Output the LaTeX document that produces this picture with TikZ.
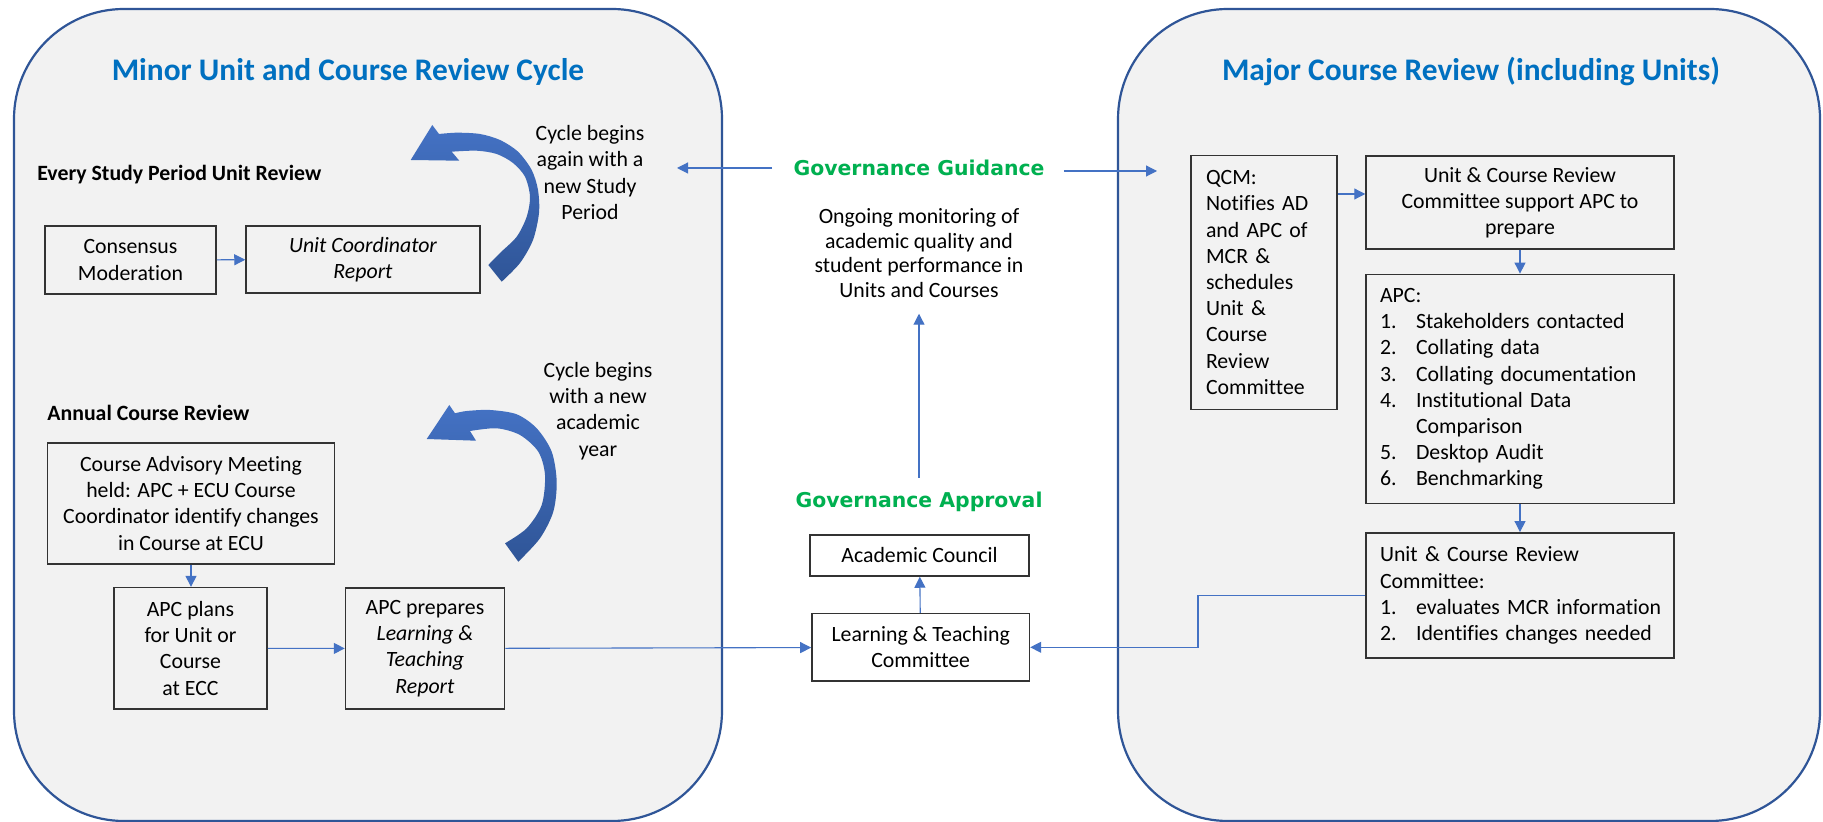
\documentclass[tikz,border=0pt]{standalone}
\usepackage{fontspec}
\setmainfont{Carlito}[Ligatures=NoCommon]
\newfontfamily\govfont{DejaVu Sans}
\usetikzlibrary{arrows.meta}
\definecolor{panelblue}{HTML}{2F5597}
\definecolor{flowblue}{HTML}{4472C4}
\definecolor{titleblue}{HTML}{0070C0}
\definecolor{govgreen}{HTML}{00B050}
\definecolor{panelgray}{HTML}{F2F2F2}
\newcommand\bodyfont{\fontsize{10.9}{13.1}\selectfont}
\newcommand\listno[1]{\makebox[18pt][l]{#1}}

\begin{document}
\begin{tikzpicture}[x=0.5pt,y=-0.5pt,
  every node/.style={font=\bodyfont, inner sep=0pt},
  box/.style={draw=black!80, line width=0.75pt, align=center},
  flow/.style={draw=flowblue, line width=0.55pt, -{Triangle[length=5.5pt,width=5.5pt]}},
  panel/.style={draw=panelblue, line width=1.1pt, fill=panelgray, rounded corners=55pt},
  title/.style={text=titleblue, font=\fontsize{15.7}{18}\selectfont\bfseries},
  gov/.style={text=govgreen, font=\govfont\fontsize{10.2}{12}\selectfont\bfseries},
  cyclearrow/.style={top color=flowblue, bottom color=panelblue, draw=none}]

\useasboundingbox (0,0) rectangle (1823,822);
\fill[white] (0,0) rectangle (1823,822);

% the two review panels
\path[panel] (14,9) rectangle (722,821);
\path[panel] (1118,9) rectangle (1820,821);

\node[title] (minortitle) at (348,72) {Minor Unit and Course Review Cycle};
\node[title] (majortitle) at (1471,72) {Major Course Review (including Units)};

% minor review cycle
\node[font=\bodyfont\bfseries, anchor=west] (unitreview) at (37,175) {Every Study Period Unit Review};
\node[box, minimum width=85.5pt, minimum height=34pt] (consensus) at (130.5,260) {Consensus\\Moderation};
\node[box, minimum width=117pt, minimum height=33.5pt, font=\bodyfont\itshape] (ucreport) at (363,259.5) {Unit Coordinator\\Report};
\node[align=center] (cycleunit) at (590,172.5) {Cycle begins\\again with a\\new Study\\Period};

\node[font=\bodyfont\bfseries, anchor=west] (coursereview) at (47,413) {Annual Course Review};
\node[box, minimum width=143.5pt, minimum height=60.5pt] (advisory) at (191,503.3) {Course Advisory Meeting\\held: APC + ECU Course\\Coordinator identify changes\\in Course at ECU};
\node[box, minimum width=76.5pt, minimum height=60.7pt] (plans) at (190.5,648.3) {APC plans\\for Unit or\\Course\\at ECC};
\node[box, minimum width=79.5pt, minimum height=60.5pt] (prepares) at (425,648.5) {APC prepares\\\textit{Learning \&}\\\textit{Teaching}\\\textit{Report}};
\node[align=center] (cyclecourse) at (598,411) {Cycle begins\\with a new\\academic\\year};

\shade[cyclearrow] (432.3,125) -- plot[smooth] coordinates {(439,134) (457,132.7) (480,134) (500,140) (518,151.7) (531.7,170) (538,190) (539,213) (533,240) (520,263) (501.7,281.7)}
  -- plot[smooth] coordinates {(488.3,265) (500,253) (516.7,236.7) (526.7,216.7) (530,196.7) (525,176.7) (513,163) (496.7,154) (476.7,150.7) (451.7,151.7)}
  -- (459.3,160.7) -- (410.7,160) -- cycle;
\shade[cyclearrow] (449.3,405) -- plot[smooth] coordinates {(455,413.3) (466.7,411) (490,410) (516.7,414.3) (536.7,428.3) (551.7,451.7) (556.7,481.7) (553.3,511.7) (540,538.3) (518.3,561.7)}
  -- plot[smooth] coordinates {(505,543.3) (526.7,528.3) (541.7,505) (545,475) (538.3,451.7) (520,435) (496.7,428.3) (470,431)}
  -- (476,440.7) -- (426.7,439) -- cycle;

% governance
\node[gov] (guidance) at (919,168) {Governance Guidance};
\node[align=center, font=\fontsize{10.9}{12.25}\selectfont] (ongoing) at (919,253) {Ongoing monitoring of\\academic quality and\\student performance in\\Units and Courses};
\node[gov] (approval) at (919,502) {Governance Approval};
\node[box, fill=white, minimum width=109.5pt, minimum height=20.5pt] (council) at (919.5,555.5) {Academic Council};
\node[box, fill=white, minimum width=108.75pt, minimum height=33.75pt] (ltc) at (920.7,647.3) {Learning \& Teaching\\Committee};
\coordinate (guideleft) at (677,168);
\coordinate (guideright) at (1157,171);

% major course review
\node[box, text width=58pt, inner sep=7.5pt, minimum height=126.5pt, align=left] (qcm) at (1264,282.5) {QCM:\\Notifies AD\\and APC of\\MCR \&\\schedules\\Unit \&\\Course\\Review\\Committee};
\node[box, minimum width=154pt, minimum height=46.5pt] (ucrsupport) at (1520,202.5) {Unit \& Course Review\\Committee support APC to\\prepare};
\node[box, text width=140pt, inner sep=7pt, minimum height=113pt, align=left] (apc) at (1520,389) {APC:\\\listno{1.}Stakeholders contacted\\\listno{2.}Collating data\\\listno{3.}Collating documentation\\\listno{4.}Institutional Data\\\listno{}Comparison\\\listno{5.}Desktop Audit\\\listno{6.}Benchmarking};
\node[box, text width=140pt, inner sep=7pt, minimum height=60.5pt, align=left] (ucrcommittee) at (1520,595.5) {Unit \& Course Review\\Committee:\\\listno{1.}\mbox{evaluates MCR information}\\\listno{2.}\mbox{Identifies changes needed}};
\coordinate (qcmlink) at (1350,194);
\coordinate (committeebend) at (1198,620);

\draw[flow] (consensus) -- (ucreport);
\draw[flow] (advisory.south) -- (advisory.south |- plans.north);
\draw[flow] (plans) -- (prepares);
\draw[flow] (prepares) -- (ltc);
\draw[flow] (ltc) -- (council);
\draw[flow, shorten <=7pt, shorten >=8pt] (approval) -- (ongoing);
\draw[flow, shorten <=10.5pt] (guidance) -- (guideleft);
\draw[flow, shorten <=9.5pt] (guidance.east |- guideright) -- (guideright);
\draw[flow] (qcm.east |- qcmlink) -- (ucrsupport.west |- qcmlink);
\draw[flow] (ucrsupport) -- (apc);
\draw[flow] (apc) -- (ucrcommittee);
\draw[flow] (ucrcommittee.west) -| (committeebend) |- (ltc.east);
\end{tikzpicture}
\end{document}
